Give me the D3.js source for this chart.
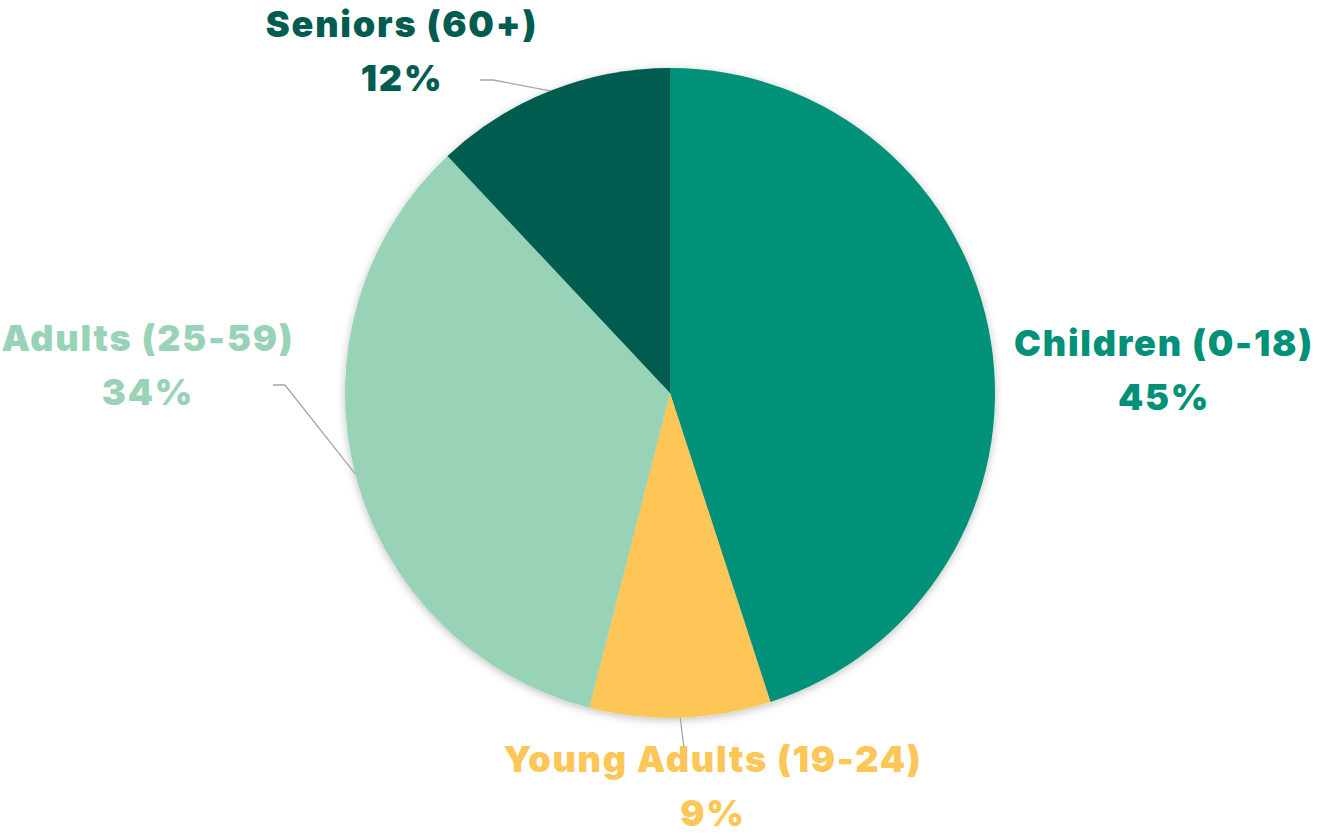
<!DOCTYPE html>
<html>
<head>
<meta charset="utf-8">
<script src="https://cdn.jsdelivr.net/npm/d3@7"></script>
<style>
  body { margin: 0; background: #fff; }
  text { font-family: "Inter", "Lato", "Roboto", sans-serif; font-weight: 900; }
</style>
</head>
<body>
<div id="chart"></div>
<script>
var categories = ["Children (0-18)", "Young Adults (19-24)", "Adults (25-59)", "Seniors (60+)"];
var values = [45, 9, 34, 12];
var colors = ["#009178", "#FDC656", "#99D3B7", "#005C50"];
// where each label block sits (center x, baseline of first line)
var labelAt = [[1164, 356], [713, 772], [148, 351], [402, 37]];
// leader line: elbow end near label, null = no leader
var leaderEnd = [null, [[684, 748]], [[273, 385], [285, 385]], [[480, 80], [493, 80]]];

var W = 1319, H = 836, cx = 670, cy = 393, R = 325;

var svg = d3.select("#chart").append("svg")
  .attr("width", W)
  .attr("height", H);

var defs = svg.append("defs");
var f = defs.append("filter").attr("id", "shadow")
  .attr("x", "-10%").attr("y", "-10%").attr("width", "120%").attr("height", "120%");
f.append("feDropShadow").attr("dx", 0).attr("dy", 2).attr("stdDeviation", 4)
  .attr("flood-color", "#000").attr("flood-opacity", 0.25);

var data = categories.map(function(c, i) { return {name: c, value: values[i], i: i}; });

var pie = d3.pie().sort(null).value(function(d) { return d.value; });
var arc = d3.arc().innerRadius(0).outerRadius(R);
var arcs = pie(data);
var total = d3.sum(values);

var g = svg.append("g").attr("transform", "translate(" + cx + "," + cy + ")");

g.append("g").attr("filter", "url(#shadow)")
  .selectAll("path")
  .data(arcs)
  .enter()
  .append("path")
  .attr("d", arc)
  .attr("fill", function(d) { return colors[d.data.i]; });

// leader lines
arcs.forEach(function(d) {
  var pts = leaderEnd[d.data.i];
  if (!pts) return;
  var a = (d.startAngle + d.endAngle) / 2;
  var edge = [cx + R * Math.sin(a), cy - R * Math.cos(a)];
  var line = pts.concat([edge]);
  svg.append("path")
    .attr("d", d3.line()(line))
    .attr("fill", "none")
    .attr("stroke", "#a6a6a6")
    .attr("stroke-width", 1.3);
});

var labels = svg.selectAll("g.lbl")
  .data(arcs)
  .enter()
  .append("g")
  .attr("class", "lbl")
  .attr("transform", function(d) { var p = labelAt[d.data.i]; return "translate(" + p[0] + "," + p[1] + ")"; });

labels.append("text")
  .attr("text-anchor", "middle")
  .attr("font-size", 36)
  .attr("letter-spacing", 1.8)
  .attr("fill", function(d) { return colors[d.data.i]; })
  .text(function(d) { return d.data.name; });

labels.append("text")
  .attr("text-anchor", "middle")
  .attr("y", 54)
  .attr("font-size", 36)
  .attr("letter-spacing", 1.8)
  .attr("fill", function(d) { return colors[d.data.i]; })
  .text(function(d) { return Math.round(d.data.value / total * 100) + "%"; });
</script>
</body>
</html>
